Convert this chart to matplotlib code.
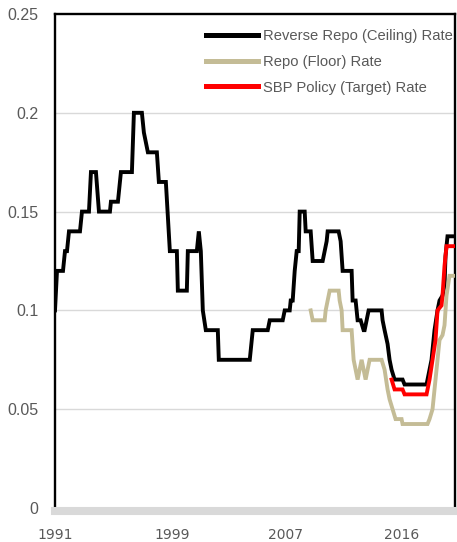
import numpy as np
import matplotlib
matplotlib.use('Agg')
import matplotlib.pyplot as plt
from matplotlib.lines import Line2D

# time position along the category axis (0 = start of 1991, 400 = mid 2019)
tick_pos = [0, 117, 231, 347]
tick_lab = ['1991', '1999', '2007', '2016']

ceil_t = [0, 2, 8, 10, 12, 14, 25, 27, 34, 36, 41, 44, 55, 56, 63, 66, 77, 79, 87, 89,
          91, 93, 102, 104, 111, 115, 122, 123, 132, 133, 142, 144, 146, 147, 148, 151,
          163, 164, 195, 198, 213, 215, 228, 230, 235, 236, 238, 240, 242, 244, 245, 250,
          251, 256, 258, 268, 272, 273, 284, 286, 288, 297, 298, 301, 303, 306, 309, 310,
          312, 314, 327, 328, 330, 333, 335, 337, 340, 348, 350, 372, 373, 375, 377, 378,
          380, 383, 385, 388, 390, 391, 393, 400]
ceil_v = [0.10, 0.12, 0.12, 0.13, 0.13, 0.14, 0.14, 0.15, 0.15, 0.17, 0.17, 0.15, 0.15,
          0.155, 0.155, 0.17, 0.17, 0.20, 0.20, 0.19, 0.185, 0.18, 0.18, 0.165, 0.165,
          0.13, 0.13, 0.11, 0.11, 0.13, 0.13, 0.14, 0.13, 0.115, 0.10, 0.09, 0.09, 0.075,
          0.075, 0.09, 0.09, 0.095, 0.095, 0.10, 0.10, 0.105, 0.105, 0.12, 0.13, 0.13,
          0.15, 0.15, 0.14, 0.14, 0.125, 0.125, 0.135, 0.14, 0.14, 0.135, 0.12, 0.12,
          0.105, 0.105, 0.095, 0.095, 0.09, 0.09, 0.095, 0.10, 0.10, 0.095, 0.09, 0.083,
          0.075, 0.07, 0.065, 0.065, 0.0625, 0.0625, 0.065, 0.07, 0.075, 0.08, 0.09, 0.10,
          0.105, 0.1075, 0.1125, 0.1275, 0.1375, 0.1375]

floor_t = [256, 258, 270, 271, 273, 275, 284, 285, 287, 288, 297, 299, 301, 303, 305, 307,
           309, 311, 313, 315, 327, 330, 333, 335, 338, 341, 347, 348, 373, 375, 378, 380,
           382, 385, 388, 390, 392, 395, 400]
floor_v = [0.10, 0.095, 0.095, 0.10, 0.105, 0.11, 0.11, 0.105, 0.10, 0.09, 0.09, 0.075,
           0.07, 0.065, 0.07, 0.075, 0.07, 0.065, 0.07, 0.075, 0.075, 0.07, 0.06, 0.055,
           0.05, 0.045, 0.045, 0.0425, 0.0425, 0.045, 0.05, 0.06, 0.07, 0.085, 0.0875,
           0.0925, 0.1075, 0.1175, 0.1175]

pol_t = [337, 340, 348, 350, 372, 373, 375, 378, 381, 383, 387, 388, 390, 392, 400]
pol_v = [0.065, 0.06, 0.06, 0.0575, 0.0575, 0.06, 0.065, 0.075, 0.085, 0.10, 0.1025,
         0.1075, 0.1225, 0.1325, 0.1325]

labels = ['Reverse Repo (Ceiling) Rate', 'Repo (Floor) Rate', 'SBP Policy (Target) Rate']
colors = ['#000000', '#c4bc96', '#ff0000']

W, H = 457, 542
fig = plt.figure(figsize=(W / 100, H / 100), dpi=100)
ax = fig.add_axes([55 / W, (H - 508) / H, 399.5 / W, 494 / H])

ax.plot(ceil_t, ceil_v, color=colors[0], lw=2.8, solid_joinstyle='miter', zorder=3)
ax.plot(floor_t, floor_v, color=colors[1], lw=2.8, solid_joinstyle='miter', zorder=3)
ax.plot(pol_t, pol_v, color=colors[2], lw=2.8, solid_joinstyle='miter', zorder=4)

ax.set_xlim(0, 400)
ax.set_ylim(0, 0.25)
ax.set_yticks([0, 0.05, 0.1, 0.15, 0.2, 0.25])
ax.set_yticklabels(['0', '0.05', '0.1', '0.15', '0.2', '0.25'])
ax.set_xticks(tick_pos)
ax.set_xticklabels(tick_lab)

for y in [0.05, 0.1, 0.15, 0.2]:
    ax.axhline(y, color='#d9d9d9', lw=1.0, zorder=1)

tick_font = ['Liberation Sans', 'DejaVu Sans']
ax.tick_params(axis='both', length=0, labelcolor='#595959')
ax.tick_params(axis='y', pad=12)
ax.tick_params(axis='x', pad=12)
for lab in ax.get_xticklabels() + ax.get_yticklabels():
    lab.set_fontfamily(tick_font)
    lab.set_fontsize(11.5)

for s in ['left', 'right', 'top']:
    ax.spines[s].set_color('black')
    ax.spines[s].set_linewidth(1.7)
ax.spines['bottom'].set_color('#d9d9d9')
ax.spines['bottom'].set_linewidth(5.8)
ax.spines['bottom'].set_position(('outward', 2.2))

handles = [Line2D([], [], color=c, lw=3.6) for c in colors]
leg = ax.legend(handles, labels, loc='upper left',
                bbox_to_anchor=(206 / W, 1 - 29 / H), bbox_transform=fig.transFigure,
                frameon=False, borderpad=0, borderaxespad=0, handlelength=3.5,
                handletextpad=0.4, labelspacing=0.8,
                prop={'family': ['Liberation Sans', 'DejaVu Sans'], 'size': 10.6},
                labelcolor='#595959')
leg.set_zorder(5)

fig.savefig('out.png', dpi=100)
